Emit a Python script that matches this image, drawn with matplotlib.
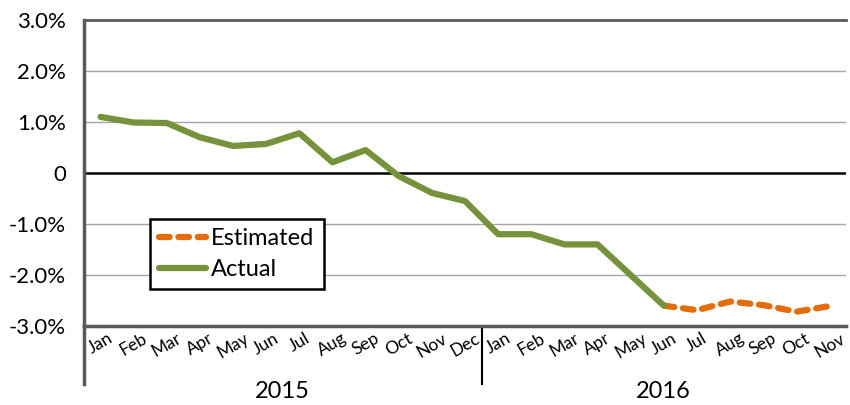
"""Monthly change, actual vs. estimated, 2015-2016."""

import matplotlib

matplotlib.use("Agg")
import matplotlib.pyplot as plt
import matplotlib.transforms as mtransforms

months = ["Jan", "Feb", "Mar", "Apr", "May", "Jun", "Jul", "Aug", "Sep", "Oct", "Nov", "Dec",
          "Jan", "Feb", "Mar", "Apr", "May", "Jun", "Jul", "Aug", "Sep", "Oct", "Nov"]
years = ["2015", "2016"]
year_lengths = [12, 11]

actual = [1.10, 0.99, 0.98, 0.70, 0.53, 0.57, 0.78, 0.21, 0.45, -0.06, -0.39, -0.55,
          -1.20, -1.20, -1.40, -1.40, -2.00, -2.60]
estimated = [-2.60, -2.69, -2.52, -2.59, -2.72, -2.61]
estimated_start = 17

GREEN = "#76933C"
ORANGE = "#E46C0A"

plt.rcParams["font.family"] = ["Lato", "DejaVu Sans"]

fig = plt.figure(figsize=(8.5, 4.05), dpi=100)
ax = fig.add_axes([84 / 850, 1 - 326 / 405, 762 / 850, 306 / 405])

x_act = list(range(len(actual)))
x_est = list(range(estimated_start, estimated_start + len(estimated)))

est_line, = ax.plot(x_est, estimated, color=ORANGE, lw=4.5, dash_capstyle="round",
                    label="Estimated", zorder=3)
est_line.set_dashes((1.7, 1.4))
act_line, = ax.plot(x_act, actual, color=GREEN, lw=4.5, solid_joinstyle="round",
                    solid_capstyle="round", label="Actual", zorder=4)

ax.set_xlim(-0.5, len(months) - 0.5)
ax.set_ylim(-3, 3)
ax.set_yticks([-3, -2, -1, 0, 1, 2, 3])
ax.set_yticklabels(["-3.0%", "-2.0%", "-1.0%", "0", "1.0%", "2.0%", "3.0%"], fontsize=16)
ax.set_xticks(range(len(months)))
ax.set_xticklabels(months, rotation=30, ha="center", va="top", fontsize=12.5)
ax.tick_params(axis="both", length=0)
ax.tick_params(axis="x", pad=3)
ax.tick_params(axis="y", pad=13)

for y in [-2, -1, 1, 2]:
    ax.axhline(y, color="#A6A6A6", lw=1, zorder=1)
ax.axhline(0, color="black", lw=1.8, zorder=2)

ax.spines["right"].set_visible(False)
ax.spines["top"].set_color("#595959")
ax.spines["top"].set_linewidth(2)
ax.spines["bottom"].set_color("#595959")
ax.spines["bottom"].set_linewidth(2.5)
ax.spines["left"].set_color("#595959")
ax.spines["left"].set_linewidth(2.5)

# year group labels and separators below the axis
trans = mtransforms.blended_transform_factory(ax.transData, ax.transAxes)
start = 0
for year, n in zip(years, year_lengths):
    ax.text(start + (n - 1) / 2, -0.215, year, transform=trans, ha="center", va="center",
            fontsize=17)
    start += n
ax.plot([-0.5, -0.5], [0, -0.19], transform=trans, color="#595959", lw=2.5, clip_on=False)
ax.plot([11.5, 11.5], [0, -0.19], transform=trans, color="black", lw=1.5, clip_on=False)

leg = ax.legend(handles=[est_line, act_line], loc="upper left",
                bbox_to_anchor=(0.086, 0.35), borderaxespad=0,
                fontsize=17, handlelength=2.0, handletextpad=0.2, borderpad=0.4,
                labelspacing=0.4, fancybox=False, framealpha=1)
leg.get_frame().set_edgecolor("black")
leg.get_frame().set_linewidth(1.8)

fig.savefig("out.png", dpi=100)
